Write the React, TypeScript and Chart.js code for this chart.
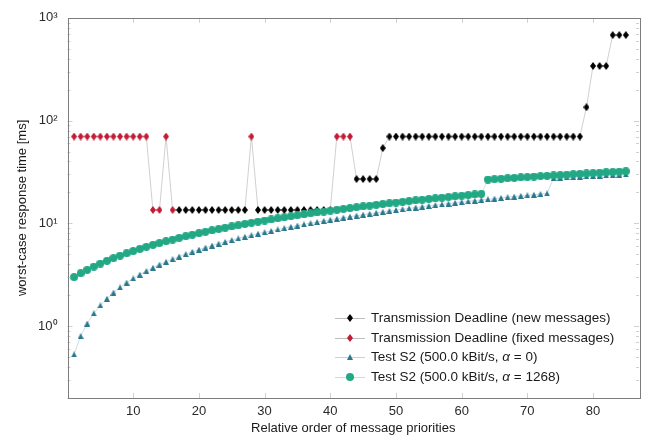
import { useEffect, useRef } from "react";
import { Chart, registerables } from "chart.js";

Chart.register(...registerables);

// ---------- data ----------
const priorities = Array.from({ length: 85 }, (_, i) => i + 1);

const deadlineMs = [
  70, 70, 70, 70, 70, 70, 70, 70, 70, 70, 70, 70,
  13.5, 13.5, 70, 13.5,
  13.5, 13.5, 13.5, 13.5, 13.5, 13.5, 13.5, 13.5, 13.5, 13.5, 13.5,
  70,
  13.5, 13.5, 13.5, 13.5, 13.5, 13.5, 13.5, 13.5, 13.5, 13.5, 13.5, 13.5,
  70, 70, 70,
  27, 27, 27, 27,
  54,
  70, 70, 70, 70, 70, 70, 70, 70, 70, 70, 70, 70, 70, 70, 70,
  70, 70, 70, 70, 70, 70, 70, 70, 70, 70, 70, 70, 70, 70, 70,
  135,
  340, 340, 340,
  680, 680, 680,
];

const fixedPriorities = [1, 2, 3, 4, 5, 6, 7, 8, 9, 10, 11, 12, 13, 14, 15, 16, 28, 41, 42, 43];

const s2Alpha0 = [
  0.53, 0.8, 1.06, 1.33, 1.59, 1.85, 2.12, 2.38, 2.65, 2.91,
  3.17, 3.44, 3.7, 3.97, 4.23, 4.49, 4.76, 5.02, 5.29, 5.55,
  5.81, 6.08, 6.34, 6.61, 6.87, 7.13, 7.4, 7.66, 7.93, 8.19,
  8.45, 8.72, 8.98, 9.25, 9.51, 9.77, 10.04, 10.3, 10.57, 10.83,
  11.09, 11.36, 11.62, 11.89, 12.15, 12.41, 12.68, 12.94, 13.21, 13.47,
  13.73, 14.0, 14.26, 14.53, 14.79, 15.05, 15.32, 15.58, 15.85, 16.11,
  16.37, 16.64, 16.9, 17.17, 17.43, 17.69, 17.96, 18.22, 18.49, 18.75,
  19.01, 19.28, 19.54,
  27.6, 27.8, 28.0, 28.2, 28.4, 28.7, 28.9, 29.1, 29.3, 29.5, 29.7, 29.9,
];

const s2Alpha1268 = [
  3.0, 3.27, 3.53, 3.8, 4.06, 4.32, 4.59, 4.85, 5.12, 5.38,
  5.64, 5.91, 6.17, 6.44, 6.7, 6.96, 7.23, 7.49, 7.76, 8.02,
  8.28, 8.55, 8.81, 9.08, 9.34, 9.6, 9.87, 10.13, 10.4, 10.66,
  10.92, 11.19, 11.45, 11.72, 11.98, 12.24, 12.51, 12.77, 13.04, 13.3,
  13.56, 13.83, 14.09, 14.36, 14.62, 14.88, 15.15, 15.41, 15.68, 15.94,
  16.2, 16.47, 16.73, 17.0, 17.26, 17.52, 17.79, 18.05, 18.32, 18.58,
  18.84, 19.11, 19.37,
  26.7, 26.9, 27.2, 27.5, 27.7, 28.0, 28.2, 28.5, 28.8, 29.0,
  29.3, 29.5, 29.8, 30.1, 30.3, 30.6, 30.8, 31.1, 31.4, 31.6, 31.9, 32.1,
];

const xTickValues = [10, 20, 30, 40, 50, 60, 70, 80];
const yTickValues = [1, 10, 100, 1000];
const yTickLabels = ["10⁰", "10¹", "10²", "10³"];

const legendLabels = [
  "Transmission Deadline (new messages)",
  "Transmission Deadline (fixed messages)",
  "Test S2 (500.0 kBit/s, |α| = 0)",
  "Test S2 (500.0 kBit/s, |α| = 1268)",
];

// ---------- styles ----------
const FONT = '"Liberation Sans", Arial, sans-serif';
const COL_NEW = "#000000";
const COL_FIXED = "#c41a34";
const COL_A0 = "#2a788e";
const COL_A1268 = "#22a884";

function makeMarker(kind: string, color: string, w: number, h: number) {
  const c = document.createElement("canvas");
  c.width = w;
  c.height = h;
  const ctx = c.getContext("2d")!;
  ctx.fillStyle = color;
  ctx.beginPath();
  if (kind === "diamond") {
    ctx.moveTo(w / 2, 0);
    ctx.lineTo(w, h / 2);
    ctx.lineTo(w / 2, h);
    ctx.lineTo(0, h / 2);
  } else if (kind === "triangle") {
    ctx.moveTo(w / 2, 0);
    ctx.lineTo(w, h);
    ctx.lineTo(0, h);
  } else {
    ctx.arc(w / 2, h / 2, w / 2, 0, Math.PI * 2);
  }
  ctx.closePath();
  ctx.fill();
  return c;
}

export default function App() {
  const ref = useRef<HTMLCanvasElement | null>(null);

  useEffect(() => {
    document.body.style.margin = "0";
    const canvas = ref.current!;

    const mNew = makeMarker("diamond", COL_NEW, 6, 8);
    const mFixed = makeMarker("diamond", COL_FIXED, 6, 8);
    const mA0 = makeMarker("triangle", COL_A0, 6, 6);
    const mA1268 = makeMarker("circle", COL_A1268, 8, 8);
    const markers = [mNew, mFixed, mA0, mA1268];
    const lineCols = ["#bdbdbd", "#bdbdbd", "rgba(42,120,142,0.3)", "rgba(34,168,132,0.3)"];

    const isFixed = (p: number) => fixedPriorities.includes(p);
    const deadlineAll = priorities.map((p, i) => ({ x: p, y: deadlineMs[i] }));
    const newPts = deadlineAll.filter((d) => !isFixed(d.x));
    const fixedPts = deadlineAll.filter((d) => isFixed(d.x));

    const framePlugin = {
      id: "frameTicks",
      afterDatasetsDraw(chart: any) {
        const { ctx, chartArea } = chart;
        const { left, right, top, bottom } = chartArea;
        const xs = chart.scales.x;
        const ys = chart.scales.y;
        ctx.save();
        ctx.lineWidth = 1;
        ctx.strokeStyle = "#cfcfcf";
        ctx.beginPath();
        for (const v of xTickValues) {
          const px = Math.round(xs.getPixelForValue(v)) + 0.5;
          ctx.moveTo(px, bottom);
          ctx.lineTo(px, bottom - 5);
          ctx.moveTo(px, top);
          ctx.lineTo(px, top + 5);
        }
        for (let d = -1; d < 3; d++) {
          for (let m = 1; m <= 9; m++) {
            const v = m * Math.pow(10, d);
            if (v < 0.2 || v > 1000) continue;
            const py = Math.round(ys.getPixelForValue(v)) + 0.5;
            const len = m === 1 ? 5 : 3;
            ctx.moveTo(left, py);
            ctx.lineTo(left + len, py);
            ctx.moveTo(right, py);
            ctx.lineTo(right - len, py);
          }
        }
        ctx.stroke();
        ctx.strokeStyle = "#7d7d7d";
        ctx.strokeRect(Math.round(left) + 0.5, Math.round(top) + 0.5, Math.round(right - left), Math.round(bottom - top));
        ctx.restore();
      },
    };

    const legendPlugin = {
      id: "customLegend",
      afterDraw(chart: any) {
        const { ctx, chartArea } = chart;
        const rowOffsets = [80, 60, 41, 21];
        const x0 = chartArea.right - 304;
        ctx.save();
        ctx.textBaseline = "middle";
        legendLabels.forEach((label, i) => {
          const y = chartArea.bottom - rowOffsets[i];
          ctx.strokeStyle = lineCols[i];
          ctx.lineWidth = 1;
          ctx.beginPath();
          ctx.moveTo(x0, y + 0.5);
          ctx.lineTo(x0 + 30, y + 0.5);
          ctx.stroke();
          const mk = markers[i];
          ctx.drawImage(mk, x0 + 15 - mk.width / 2, y - mk.height / 2);
          let tx = x0 + 36;
          ctx.fillStyle = "#1a1a1a";
          const parts = label.split("|");
          parts.forEach((part, k) => {
            ctx.font = (k === 1 ? "italic " : "") + "13.5px " + FONT;
            ctx.fillText(part, tx, y);
            tx += ctx.measureText(part).width;
          });
        });
        ctx.restore();
      },
    };

    const chart = new Chart(canvas, {
      type: "scatter",
      data: {
        datasets: [
          {
            label: legendLabels[3],
            data: priorities.map((p, i) => ({ x: p, y: s2Alpha1268[i] })),
            showLine: true,
            borderColor: lineCols[3],
            borderWidth: 0.8,
            pointStyle: mA1268,
            pointRadius: 3,
          },
          {
            label: legendLabels[2],
            data: priorities.map((p, i) => ({ x: p, y: s2Alpha0[i] })),
            showLine: true,
            borderColor: lineCols[2],
            borderWidth: 0.8,
            pointStyle: mA0,
            pointRadius: 3,
          },
          {
            label: legendLabels[1],
            data: fixedPts,
            showLine: false,
            pointStyle: mFixed,
            pointRadius: 3,
          },
          {
            label: legendLabels[0],
            data: newPts,
            showLine: false,
            pointStyle: mNew,
            pointRadius: 3,
          },
          {
            label: "deadline line",
            data: deadlineAll,
            showLine: true,
            borderColor: "#c4c4c4",
            borderWidth: 0.8,
            pointRadius: 0,
          },
        ] as any,
      },
      options: {
        animation: false,
        responsive: false,
        devicePixelRatio: 1,
        events: [],
        layout: { padding: { top: 13, right: 12, left: 0, bottom: 0 } },
        plugins: {
          legend: { display: false },
          tooltip: { enabled: false },
        },
        scales: {
          x: {
            type: "linear",
            min: 0,
            max: 87,
            grid: { display: false, drawTicks: false },
            border: { display: false },
            afterBuildTicks: (s: any) => {
              s.ticks = xTickValues.map((v) => ({ value: v }));
            },
            afterFit: (s: any) => {
              s.height = 43;
            },
            ticks: {
              padding: 6,
              color: "#2a2a2a",
              font: { family: FONT, size: 13 },
              callback: (v: any) => String(v),
            },
            title: {
              display: true,
              text: "Relative order of message priorities",
              color: "#1a1a1a",
              font: { family: FONT, size: 13 },
              padding: { top: 0, bottom: 5 },
            },
          },
          y: {
            type: "logarithmic",
            min: 0.2,
            max: 1000,
            grid: { display: false, drawTicks: false },
            border: { display: false },
            afterBuildTicks: (s: any) => {
              s.ticks = yTickValues.map((v) => ({ value: v, major: true }));
            },
            afterFit: (s: any) => {
              s.width = 67.5;
            },
            ticks: {
              padding: 10,
              color: "#2a2a2a",
              font: { family: FONT, size: 13 },
              callback: (v: any) => {
                const idx = yTickValues.indexOf(Number(v));
                return idx >= 0 ? yTickLabels[idx] : "";
              },
            },
            title: {
              display: true,
              text: "worst-case response time [ms]",
              color: "#1a1a1a",
              font: { family: FONT, size: 13 },
              padding: { top: 15, bottom: 0 },
            },
          },
        },
      } as any,
      plugins: [framePlugin, legendPlugin],
    });

    return () => chart.destroy();
  }, []);

  return (
    <div style={{ position: "absolute", left: 0, top: 0, width: 651, height: 441, background: "#fff" }}>
      <canvas ref={ref} width={651} height={441} />
    </div>
  );
}
